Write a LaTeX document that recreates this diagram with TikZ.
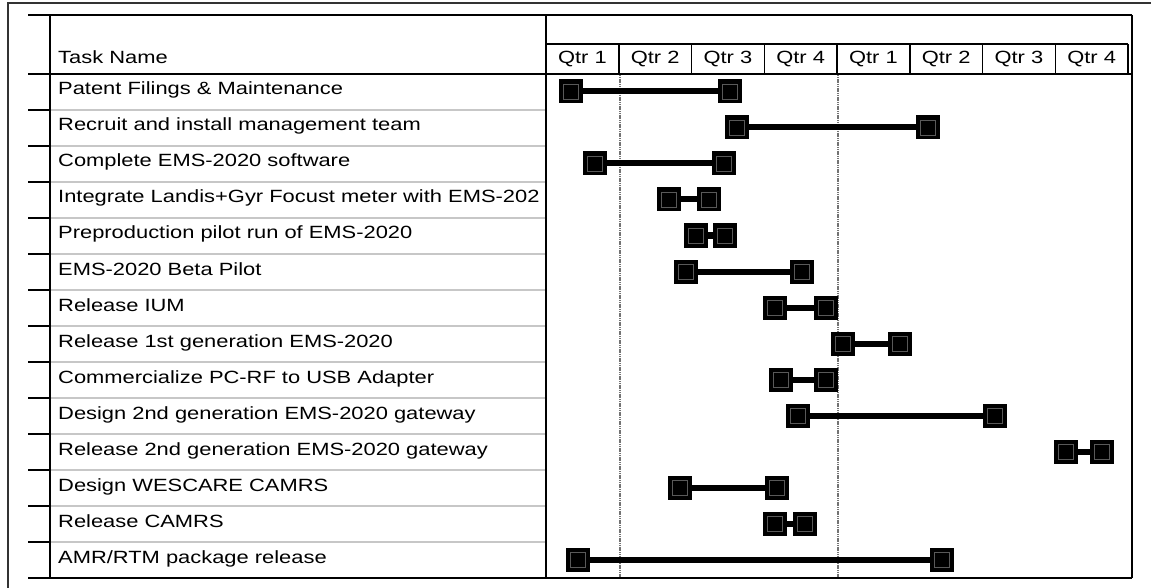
\documentclass[tikz,border=0pt]{standalone}
\usepackage{fontspec}
\setmainfont{Liberation Sans}[FakeStretch=1.237]
\begin{document}
\begin{tikzpicture}[x=1pt,y=-1pt,
  frameline/.style={draw=black!80, line width=1.8pt},
  gridline/.style={draw=black, line width=1.5pt},
  rowline/.style={draw=black!22, line width=1.5pt},
  todayline/.style={draw=black!55, line width=2.2pt, dash pattern=on 1.2pt off 0.6pt},
  tasklabel/.style={anchor=base west, inner sep=0pt, font=\fontsize{17.7}{20}\selectfont},
  qtrlabel/.style={anchor=base, inner sep=0pt, font=\fontsize{17.7}{20}\selectfont},
  marker/.style={rectangle, fill=black, minimum size=24pt, inner sep=0pt,
    path picture={\draw[black!65, line width=0.9pt]
      ([shift={(4.5pt,-4.5pt)}]path picture bounding box.north west) rectangle
      ([shift={(-4.5pt,4.5pt)}]path picture bounding box.south east);}},
  bar/.style={draw=black, line width=6pt}
]
\useasboundingbox (0,0) rectangle (1151,588);
% outer frame
\draw[frameline] (8,588) -- (8,3) -- (1151,3);
% table frame
\draw[gridline] (28,15) -- (1132,15);
\draw[gridline] (546,44) -- (1128,44);
\draw[gridline] (28,74) -- (1132,74);
\draw[gridline] (28,578) -- (1132,578);
\draw[gridline] (1132,15) -- (1132,578);
\draw[gridline] (50,15) -- (50,578);
\draw[gridline] (546,15) -- (546,578);
\foreach \i in {1,...,8} {
  \draw[gridline] ({546+72.75*\i},44) -- ({546+72.75*\i},74);
}
% row separators
\foreach \i in {1,...,13} {
  \draw[rowline] (51,{74+36*\i}) -- (545,{74+36*\i});
  \draw[gridline] (28,{74+36*\i}) -- (50,{74+36*\i});
}
% dotted vertical lines
\draw[todayline] (620,75) -- (620,577);
\draw[todayline] (838,75) -- (838,577);
% header
\node[tasklabel] (hdr) at (58,64) {Task Name};
\foreach \i/\q in {0/1,1/2,2/3,3/4,4/1,5/2,6/3,7/4} {
  \node[qtrlabel] (q\i) at ({546+72.75*(\i+0.5)},64) {Qtr \q};
}
\newcommand\gtask[4]{%
  \node[tasklabel] (t#1) at (58,{95+36*(#1-1)}) {#4};
  \node[marker] (s#1) at (#2,{91.5+36*(#1-1)}) {};
  \node[marker] (e#1) at (#3,{91.5+36*(#1-1)}) {};
  \draw[bar] (s#1) -- (e#1);
}
\gtask{1}{571}{730}{Patent Filings \& Maintenance}
\gtask{2}{737}{928}{Recruit and install management team}
\gtask{3}{594.5}{724}{Complete EMS-2020 software}
\gtask{4}{669}{709}{Integrate Landis+Gyr Focust meter with EMS-202}
\gtask{5}{696}{725}{Preproduction pilot run of EMS-2020}
\gtask{6}{686}{802}{EMS-2020 Beta Pilot}
\gtask{7}{775}{826}{Release IUM}
\gtask{8}{843}{900}{Release 1st generation EMS-2020}
\gtask{9}{781}{826}{Commercialize PC-RF to USB Adapter}
\gtask{10}{798}{995}{Design 2nd generation EMS-2020 gateway}
\gtask{11}{1066}{1102}{Release 2nd generation EMS-2020 gateway}
\gtask{12}{680}{777}{Design WESCARE CAMRS}
\gtask{13}{775}{805}{Release CAMRS}
\gtask{14}{578}{942}{AMR/RTM package release}
\end{tikzpicture}
\end{document}
